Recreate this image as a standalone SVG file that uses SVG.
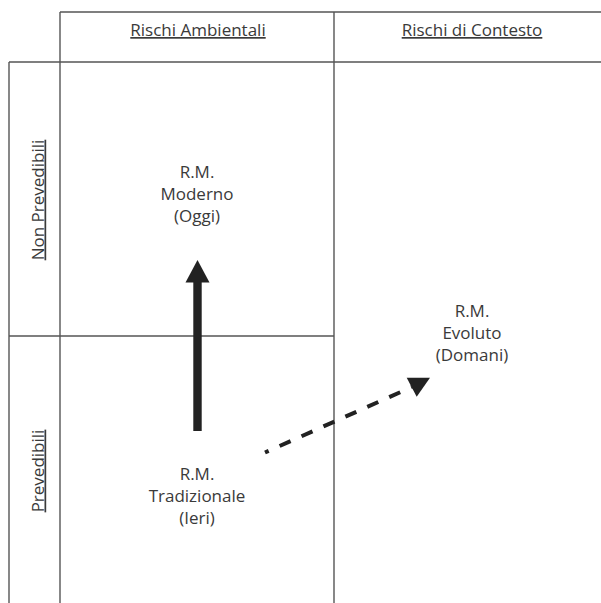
<svg xmlns="http://www.w3.org/2000/svg" width="601" height="603" viewBox="0 0 601 603">
  <style>
    .grid { stroke: #555; stroke-width: 1.4; fill: none; }
    .lbl { font-family: "Open Sans", "Noto Sans", sans-serif; font-size: 17px; fill: #3a3a3a; text-anchor: middle; }
    .hdr { text-decoration: underline; }
  </style>
  <rect width="601" height="603" fill="#fff"/>
  <g id="grid">
    <line class="grid" x1="60" y1="12" x2="601" y2="12"/>
    <line class="grid" x1="9" y1="62" x2="601" y2="62"/>
    <line class="grid" x1="9" y1="336" x2="334" y2="336"/>
    <line class="grid" x1="9" y1="62" x2="9" y2="603"/>
    <line class="grid" x1="60" y1="12" x2="60" y2="603"/>
    <line class="grid" x1="334" y1="12" x2="334" y2="603"/>
  </g>
  <g id="headers">
    <text class="lbl hdr" x="198" y="36">Rischi Ambientali</text>
    <text class="lbl hdr" x="472" y="36">Rischi di Contesto</text>
    <text class="lbl hdr" transform="translate(43.5,200) rotate(-90)">Non Prevedibili</text>
    <text class="lbl hdr" transform="translate(43.5,471) rotate(-90)">Prevedibili</text>
  </g>
  <g id="node-moderno">
    <text class="lbl" x="197" y="177.5">R.M.</text>
    <text class="lbl" x="197" y="199.5">Moderno</text>
    <text class="lbl" x="197" y="221.5">(Oggi)</text>
  </g>
  <g id="node-tradizionale">
    <text class="lbl" x="197" y="479.5">R.M.</text>
    <text class="lbl" x="197" y="501.5">Tradizionale</text>
    <text class="lbl" x="197" y="523.5">(Ieri)</text>
  </g>
  <g id="node-evoluto">
    <text class="lbl" x="472" y="316.5">R.M.</text>
    <text class="lbl" x="472" y="338.5">Evoluto</text>
    <text class="lbl" x="472" y="360.5">(Domani)</text>
  </g>
  <g id="connectors">
    <rect x="193.3" y="280" width="8.4" height="151" fill="#222"/>
    <polygon points="197.5,260 185.5,282.5 209.5,282.5" fill="#222"/>
    <line x1="265" y1="452.5" x2="412" y2="387" stroke="#222" stroke-width="4" stroke-dasharray="12 12" stroke-dashoffset="8"/>
    <polygon points="430,377.7 406.7,377.7 416.7,396.7" fill="#222"/>
  </g>
</svg>
